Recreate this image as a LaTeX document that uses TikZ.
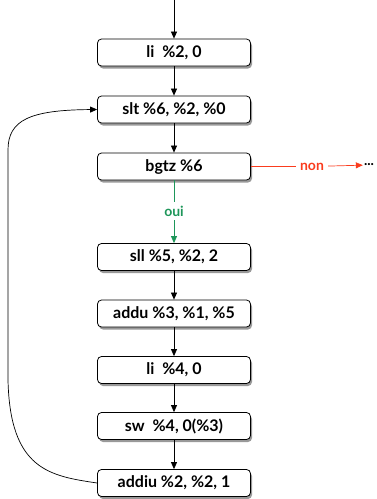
\documentclass[tikz,border=0pt]{standalone}
\usepackage{fontspec}
\setmainfont{Lato}
\usetikzlibrary{shadows,arrows.meta}
\definecolor{ouigreen}{RGB}{30,150,90}
\definecolor{nonred}{RGB}{250,60,30}
\begin{document}
\begin{tikzpicture}[x=1pt,y=-1pt,
  instr/.style={draw=black,line width=0.8pt,fill=white,rounded corners=4pt,
    minimum width=153pt,minimum height=27pt,inner sep=0pt,
    font=\fontsize{16}{18}\selectfont\bfseries,
    drop shadow={shadow xshift=1.5pt,shadow yshift=-2.5pt,opacity=0.4,fill=black}},
  flow/.style={draw=black,line width=0.7pt,-{Triangle[length=7pt,width=6pt]}},
  lbl/.style={font=\fontsize{14}{16}\selectfont\bfseries,inner sep=4pt}]
\useasboundingbox (0,0) rectangle (376,499);
\node[instr] (n1) at (174,52.5) {li\ \ \%2, 0};
\node[instr] (n2) at (174,109.5) {slt \%6, \%2, \%0};
\node[instr] (n3) at (174,166.5) {bgtz \%6};
\node[instr] (n4) at (174,257) {sll \%5, \%2, 2};
\node[instr] (n5) at (174,313.5) {addu \%3, \%1, \%5};
\node[instr] (n6) at (174,370) {li\ \ \%4, 0};
\node[instr] (n7) at (174,426) {sw\ \ \%4, 0(\%3)};
\node[instr] (n8) at (174,483) {addiu \%2, \%2, 1};
\coordinate (start) at (174,0);
\draw[flow] (start) -- (n1);
\draw[flow] (n1) -- (n2);
\draw[flow] (n2) -- (n3);
\node[lbl,text=ouigreen] (oui) at (174,211) {oui};
\draw[ouigreen,line width=0.7pt] (n3) -- (oui);
\draw[flow,draw=ouigreen,-{Triangle[length=7pt,width=6pt,fill=ouigreen]}] (oui) -- (n4);
\node[lbl,text=nonred] (non) at (312,166.5) {non};
\draw[nonred,line width=0.7pt] (n3) -- (non);
\node[lbl,inner sep=1pt] (dots) at (369,165) {...};
\draw[flow,draw=nonred,-{Triangle[length=7pt,width=6pt,fill=nonred]}] (non) -- (dots);
\draw[flow] (n4) -- (n5);
\draw[flow] (n5) -- (n6);
\draw[flow] (n6) -- (n7);
\draw[flow] (n7) -- (n8);
\draw[flow] (n8.west) .. controls (50,476) and (10,470) .. (8,380)
  -- (8,150) .. controls (8,120) and (30,110) .. (n2.west);
\end{tikzpicture}
\end{document}
